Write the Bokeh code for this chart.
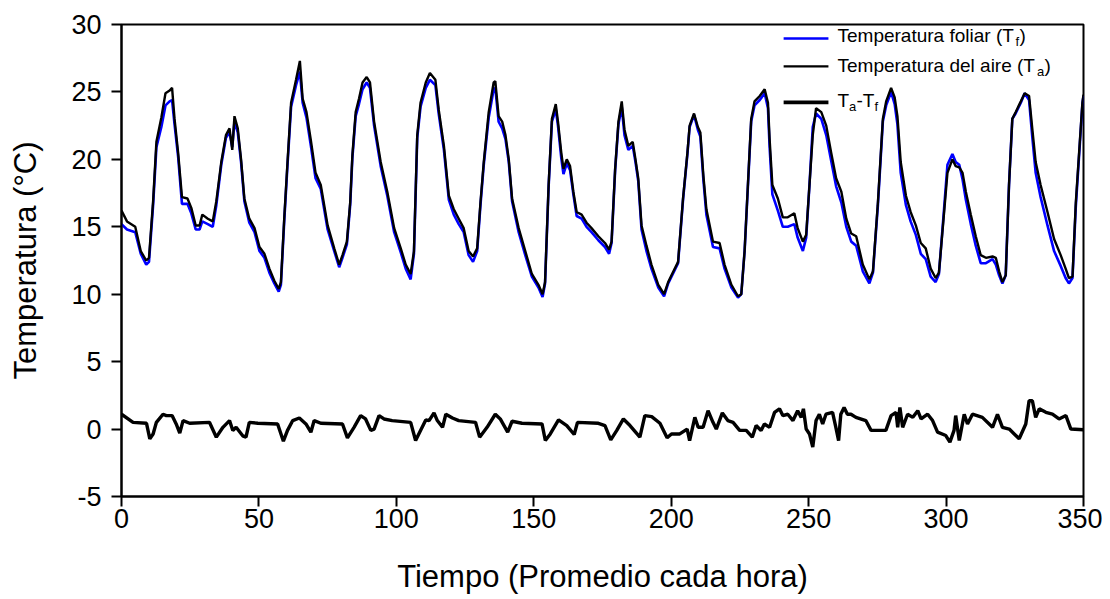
from bokeh.plotting import figure
from bokeh.models import Label, Range1d, FixedTicker, ColumnDataSource, CustomJSTickFormatter
from bokeh.embed import file_html
from bokeh.resources import INLINE

# ---------------- data ----------------
hours = [
    0, 2, 5, 7, 9, 10, 11.5, 12.7, 14.5, 16, 17.5, 18.4, 19.3, 20.6, 22, 24, 25.4, 27, 28.4,
    29.4, 31.4, 33.2, 34.5, 36.3, 38, 39.3, 40.3, 41.1, 42.3, 43.5, 44.7, 46.5, 48.4, 50.2, 52, 53.8, 55.6, 57.2, 58,
    59.2, 60.4, 61.7, 63.5, 64.9, 65.9, 67.3, 68.9, 70.6, 72.5, 75, 77.4, 79.2, 80.4, 82,
    83.2, 84, 85.2, 86.4, 87.7, 89.2, 90.4, 91.9, 94.3, 96.7, 99.2, 101.6, 103.4, 105.2, 106.4,
    107.6, 108.8, 110.7, 112.2, 114.2, 115.4, 117.3, 119.1, 120.9, 122.7, 124.5, 126.3, 127.9, 129.4,
    130.6, 131.8, 133.6, 135.4, 136, 137.2, 138.5, 139.7, 140.9, 142.1, 144.5, 146.9, 149.3, 151.7, 153.2, 154.1,
    155.4, 156.6, 158, 158.8, 160, 160.8, 162, 163.2, 164.4, 165.6, 167.4, 169.2, 171, 173.5, 175.9, 177.4, 178.3,
    179.6, 180.8, 182, 183, 184.4, 186, 187, 188, 189.2, 191, 192.8, 195.3, 197.4, 198.9, 201.3, 202.5,
    204.3, 205.9, 206.7, 208.3, 209.7, 210.6, 211.7, 212.8, 215.2, 217.6, 219.4, 221.9, 224.3, 225.5,
    226.7, 227.9, 229.1, 230.3, 232.2, 234, 235.2, 235.8, 236.8, 238.8, 240.6, 242.4, 244.8, 246, 247.9, 249.1,
    250.3, 251.5, 252.7, 254.6, 256.4, 258.2, 260, 261.9, 263.7, 265.5, 267.3, 269.7, 272.1, 273.4,
    275.2, 277, 278.2, 280, 281.3, 282.3, 283.5, 285.4, 287.1, 289, 290.8, 292.6, 294.4, 296.2, 297.4,
    299.3, 300.5, 302.3, 303.5, 304.8, 306, 307.2, 309, 310.8, 312.6, 314.5, 316.9, 318.1, 319.3, 320.5, 321.7,
    322.9, 324.1, 325.3, 327.2, 328.6, 330.2, 331.4, 332.6, 334.4, 336.9, 339.3, 341.7, 343.5, 344.7, 346, 347.2, 348.4, 349.6, 350,
]

temp_aire = [
    16.2, 15.4, 15.0, 13.2, 12.5, 12.7, 16.9, 21.3, 23.1, 24.9, 25.1, 25.3, 23.0, 20.5, 17.2, 17.1, 16.4, 15.1, 15.1,
    15.9, 15.6, 15.4, 16.9, 19.8, 21.8, 22.3, 20.7, 23.2, 22.3, 20.0, 17.1, 15.6, 14.9, 13.5, 13.0, 11.9, 11.0, 10.4, 10.9,
    15.6, 19.8, 24.2, 25.9, 27.3, 24.5, 23.5, 21.4, 19.0, 18.1, 15.1, 13.4, 12.2, 12.9, 13.9,
    16.8, 20.3, 23.5, 24.5, 25.7, 26.1, 25.7, 22.8, 19.8, 17.6, 14.9, 13.4, 12.2, 11.5, 13.2,
    21.8, 24.2, 25.7, 26.4, 25.9, 23.7, 21.0, 17.3, 16.3, 15.6, 14.9, 13.2, 12.8, 13.4,
    16.8, 19.8, 23.5, 25.7, 25.8, 23.2, 22.8, 21.8, 20.0, 17.1, 14.9, 13.2, 11.5, 10.7, 10.0, 10.9,
    18.1, 23.0, 24.1, 22.8, 20.5, 19.3, 20.0, 19.5, 17.6, 16.1, 15.9, 15.3, 14.9, 14.3, 13.8, 13.3, 13.9,
    19.3, 22.8, 24.3, 22.2, 21.0, 21.3, 20.0, 18.6, 15.1, 13.6, 12.2, 10.7, 10.0, 10.9, 11.9, 12.4,
    17.1, 20.5, 22.5, 23.4, 22.4, 22.0, 18.8, 16.3, 13.9, 13.8, 12.2, 10.7, 9.85, 10.0,
    13.2, 18.1, 23.0, 24.3, 24.7, 25.2, 24.2, 21.5, 18.1, 17.1, 15.7, 15.7, 16.0, 14.9, 13.9, 14.4,
    18.1, 21.8, 23.8, 23.5, 22.5, 20.5, 18.6, 17.6, 15.6, 14.5, 14.3, 12.2, 11.1, 11.7,
    16.8, 23.0, 24.3, 25.3, 24.6, 23.2, 19.8, 17.3, 16.1, 15.1, 13.8, 13.4, 11.9, 11.2, 11.6,
    16.1, 19.0, 20.0, 19.5, 19.4, 19.0, 17.6, 15.9, 14.3, 12.9, 12.7, 12.8, 12.7, 11.7, 10.9, 11.4,
    18.1, 23.0, 23.5, 24.3, 24.9, 24.7, 22.2, 19.8, 18.1, 16.1, 14.1, 12.9, 11.9, 11.2, 11.3, 16.8, 20.5, 24.2, 24.8,
]

temp_foliar = [
    15.2, 14.8, 14.6, 13.0, 12.2, 12.4, 16.6, 20.9, 22.4, 24.0, 24.3, 24.4, 22.6, 20.2, 16.7, 16.7, 16.0, 14.8, 14.8,
    15.4, 15.2, 15.0, 16.6, 19.6, 21.6, 22.0, 20.9, 22.8, 22.0, 19.8, 16.9, 15.3, 14.6, 13.2, 12.7, 11.6, 10.8, 10.2, 10.7,
    15.4, 19.6, 23.9, 25.5, 26.5, 24.2, 23.1, 21.0, 18.6, 17.8, 14.8, 13.2, 12.0, 12.7, 13.7,
    16.6, 20.1, 23.2, 24.1, 25.2, 25.7, 25.3, 22.5, 19.5, 17.3, 14.6, 13.1, 11.9, 11.1, 13.0,
    21.6, 23.9, 25.3, 25.9, 25.5, 23.4, 20.7, 17.0, 15.9, 15.2, 14.6, 12.9, 12.4, 13.2,
    16.6, 19.6, 23.1, 25.2, 25.3, 22.8, 22.3, 21.5, 19.8, 16.9, 14.6, 12.9, 11.3, 10.5, 9.8, 10.8,
    18.0, 22.8, 23.7, 22.5, 20.1, 18.9, 19.7, 19.2, 17.4, 15.8, 15.6, 15.0, 14.6, 14.0, 13.5, 13.0, 13.8,
    19.2, 22.6, 23.9, 21.8, 20.7, 21.0, 19.8, 18.4, 14.8, 13.2, 11.9, 10.5, 9.85, 10.8, 11.8, 12.3,
    17.0, 20.4, 22.4, 23.3, 22.2, 21.7, 18.5, 15.9, 13.5, 13.4, 11.9, 10.5, 9.75, 10.0,
    13.2, 18.0, 22.8, 24.0, 24.4, 24.9, 23.8, 20.9, 17.4, 16.2, 15.0, 15.0, 15.2, 14.2, 13.2, 14.2,
    18.1, 22.4, 23.4, 23.0, 21.8, 19.9, 18.0, 16.8, 15.0, 13.9, 13.6, 11.7, 10.8, 11.6,
    16.6, 22.8, 24.0, 25.0, 24.1, 22.6, 19.0, 16.6, 15.4, 14.4, 13.0, 12.6, 11.3, 10.9, 11.5,
    16.4, 19.6, 20.4, 19.8, 19.6, 18.5, 17.0, 15.2, 13.6, 12.3, 12.3, 12.6, 12.2, 11.4, 10.8, 11.4,
    18.1, 23.0, 23.4, 24.2, 24.9, 24.4, 21.6, 19.0, 17.2, 15.1, 13.2, 12.1, 11.2, 10.8, 11.2, 16.5, 20.3, 24.1, 24.7,
]

hours_diff = [
    0, 4.2, 9.1, 10.3, 11.5, 12.7, 15.1, 16.3, 18.4, 19.9, 21.2, 22.4, 24.8,
    32.0, 34.5, 36.9, 39.3, 40.5, 41.7, 44.1, 45.3, 46.5, 49.6,
    56.8, 58.9, 60.4, 62.3, 64.7, 67.1, 68.9, 70.1, 72.5,
    80.4, 82.2, 84.6, 87.0, 88.8, 90.7, 91.9, 93.7, 95.5, 98.5,
    105.2, 107.0, 108.8, 110.7, 111.9, 113.7, 114.9, 116.8, 118.0, 120.4, 122.7,
    128.8, 130.3, 133.0, 136.0, 137.8, 140.5, 142.1, 145.7,
    153.0, 154.2, 156.0, 159.0, 162.0, 164.7, 165.9, 173.5, 175.9,
    178.0, 180.2, 182.6, 185.0, 188.6, 190.4, 192.9, 195.9,
    198.5, 200.1, 203.1, 205.8, 206.7, 208.6, 209.8, 211.6, 213.4, 215.2, 216.4, 218.6, 220.6, 222.5,
    224.9, 227.3, 229.5, 230.9, 232.7, 233.9, 235.8, 237.6, 239.4, 240.6, 242.4, 244.3, 246.0, 247.3, 248.1,
    249.1, 250.3, 251.5, 252.7, 253.9, 255.1, 256.3, 258.7, 259.9, 260.9, 261.7, 262.9, 264.1, 265.4, 267.2, 270.8,
    272.7, 278.1, 280.0, 281.8, 282.4, 283.2, 284.2, 286.0, 287.9, 289.7, 290.9, 293.3, 295.1,
    296.9, 299.9, 301.4, 302.9, 303.5, 304.8, 306.6, 307.8, 309.6, 313.2, 316.9, 318.7, 320.5,
    323.0, 324.8, 326.6, 329.0, 330.2, 331.4, 332.6, 333.9, 336.3, 338.7, 341.1, 343.6, 345.4, 350,
]

ta_minus_tf = [
    1.1, 0.5, 0.43, -0.72, -0.36, 0.5, 1.1, 1.0, 1.0, 0.38, -0.3, 0.63, 0.43,
    0.5, -0.6, 0.13, 0.63, -0.1, 0.13, -0.5, -0.6, 0.5, 0.43,
    0.38, -0.9, -0.1, 0.63, 0.82, 0.38, -0.23, 0.63, 0.43,
    0.38, -0.65, 0.13, 1.0, 0.75, -0.1, 0.0, 1.0, 0.75, 0.63,
    0.5, -0.85, -0.1, 0.68, 0.63, 1.2, 0.63, 0.13, 1.1, 0.82, 0.63,
    0.5, -0.6, 0.13, 1.1, 0.75, -0.23, 0.58, 0.43,
    0.38, -0.85, -0.36, 0.68, 0.26, -0.4, 0.5, 0.43, 0.26,
    -0.8, -0.1, 0.75, 0.26, -0.6, 1.0, 0.92, 0.43,
    -0.65, -0.36, -0.36, 0.0, -0.85, 0.87, 0.13, 0.13, 1.36, 0.5, 0.0, 1.2, 0.63, 0.5,
    -0.1, -0.1, -0.6, 0.26, -0.1, 0.38, 0.13, 1.24, 1.5, 1.0, 1.1, 0.63, 1.36, 0.87, 1.5,
    0.0, -0.36, -1.34, 0.63, 1.1, 0.38, 1.1, 1.24, 0.13, -0.85, 1.1, 1.6, 1.1, 1.1, 0.87, 0.63,
    -0.1, -0.1, 1.0, 1.24, 0.13, 1.6, 0.13, 1.1, 0.87, 1.36, 0.75, 1.1, 0.63,
    -0.23, -0.48, -0.97, -0.1, 1.0, -0.85, 1.1, 0.38, 1.1, 0.87, 0.13, 1.1, 0.13,
    0.0, -0.36, -0.72, 0.38, 2.1, 2.1, 0.87, 1.5, 1.24, 1.1, 0.75, 1.0, 0.0, -0.05,
]

x_ticks = [0, 50, 100, 150, 200, 250, 300, 350]
y_ticks = [-5, 0, 5, 10, 15, 20, 25, 30]

# ---------------- figure ----------------
FONT = "Liberation Sans"

p = figure(frame_width=962, frame_height=472,
           min_border_left=121, min_border_right=19,
           min_border_top=24, min_border_bottom=95,
           x_range=Range1d(0, 350), y_range=Range1d(-5, 30),
           output_backend="svg", toolbar_location=None,
           background_fill_color="white", border_fill_color="white")

src_temp = ColumnDataSource(dict(h=hours, ta=temp_aire, tf=temp_foliar))
src_diff = ColumnDataSource(dict(h=hours_diff, d=ta_minus_tf))

p.line("h", "tf", source=src_temp, line_color="#0000ff", line_width=2.6)
p.line("h", "ta", source=src_temp, line_color="black", line_width=2.4)
p.line("h", "d", source=src_diff, line_color="black", line_width=3.4)

p.xgrid.visible = False
p.ygrid.visible = False
p.outline_line_color = "black"
p.outline_line_width = 2
p.outline_line_alpha = 1

p.xaxis.ticker = FixedTicker(ticks=x_ticks)
p.yaxis.ticker = FixedTicker(ticks=y_ticks)
plain = CustomJSTickFormatter(code="return String(tick);")
p.xaxis.formatter = plain
p.yaxis.formatter = plain

for ax in (p.xaxis, p.yaxis):
    ax.axis_line_width = 2
    ax.axis_line_color = "black"
    ax.major_tick_line_width = 2
    ax.major_tick_line_color = "black"
    ax.major_tick_out = 10
    ax.major_tick_in = 0
    ax.minor_tick_out = 0
    ax.minor_tick_in = 0
    ax.major_label_text_font = FONT
    ax.major_label_text_font_size = "27px"
    ax.major_label_text_color = "black"
    ax.axis_label_text_font = FONT
    ax.axis_label_text_font_size = "31px"
    ax.axis_label_text_font_style = "normal"
    ax.axis_label_text_color = "black"

p.xaxis.axis_label = "Tiempo (Promedio cada hora)"
p.yaxis.axis_label = "Temperatura (°C)"
p.xaxis.major_label_standoff = 2
p.yaxis.major_label_standoff = 10
p.xaxis.axis_label_standoff = 28
p.yaxis.axis_label_standoff = 25

# ---------------- legend (hand built for subscripts) ----------------
sw_x0, sw_x1 = 240.9, 257.2
p.segment(x0=[sw_x0], y0=[28.96], x1=[sw_x1], y1=[28.96], line_color="#0000ff", line_width=2.4)
p.segment(x0=[sw_x0], y0=[26.89], x1=[sw_x1], y1=[26.89], line_color="black", line_width=2.2)
p.segment(x0=[sw_x0], y0=[24.22], x1=[sw_x1], y1=[24.22], line_color="black", line_width=3.8)

lx = 260.5
main_fs = "19px"
sub_fs = "13px"
sub_dy = 0.42


def lab(text, y, dx=0, size=main_fs):
    p.add_layout(Label(x=lx, y=y, x_offset=dx, text=text, text_font=FONT,
                       text_font_size=size, text_baseline="middle",
                       text_align="left", text_color="black"))


r1, r2, r3 = 29.18, 26.96, 24.36
lab("Temperatura foliar (T", r1)
lab("f", r1 - sub_dy, 178, sub_fs)
lab(")", r1, 182)
lab("Temperatura del aire (T", r2)
lab("a", r2 - sub_dy, 199.5, sub_fs)
lab(")", r2, 207)
lab("T", r3)
lab("a", r3 - sub_dy, 11.6, sub_fs)
lab("-T", r3, 19)
lab("f", r3 - sub_dy, 37, sub_fs)

open("out.html", "w").write(file_html(p, INLINE))
